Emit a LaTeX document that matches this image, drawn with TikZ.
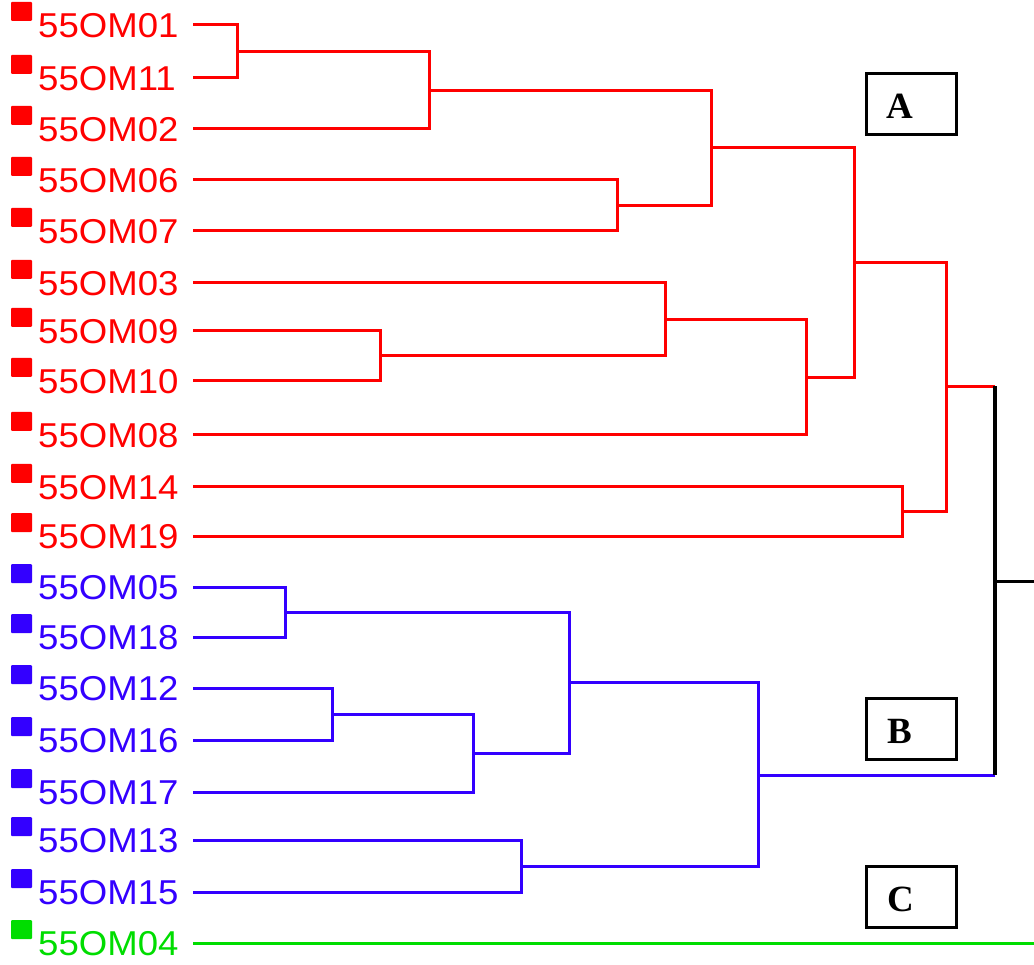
\documentclass[tikz,border=0pt]{standalone}
\usepackage{fontspec}
\setmainfont{Liberation Sans}
\newfontfamily\boxfont{Liberation Serif}
\definecolor{cA}{RGB}{255,0,0}
\definecolor{cB}{RGB}{51,0,255}
\definecolor{cC}{RGB}{0,221,0}
\begin{document}
\begin{tikzpicture}[x=1pt,y=-1pt,
  lab/.style={anchor=base west,inner sep=0pt,font=\fontsize{34.5}{35}\selectfont,xscale=1.06},
  sq/.style={minimum width=21pt,minimum height=19pt,inner sep=0pt,rounded corners=1pt},
  br/.style={line width=3pt},
  clbox/.style={draw=black,line width=2.2pt,minimum width=90pt,minimum height=61pt,inner sep=0pt},
  clletter/.style={font=\boxfont\bfseries\fontsize{37}{37}\selectfont,inner sep=0pt}]
\useasboundingbox (0,0) rectangle (1034,965);
% leaves
\foreach \n/\y/\c in {01/25/cA,11/78/cA,02/129/cA,06/180/cA,07/231/cA,03/283/cA,09/331/cA,10/381/cA,08/435/cA,14/487/cA,19/536/cA,05/587/cB,18/637/cB,12/688/cB,16/740/cB,17/792/cB,13/840/cB,15/892/cB,04/943/cC}{
  \node[sq,fill=\c] (s\n) at (21.5,\y-13.5) {};
  \node[lab,text=\c] (t\n) at (38,\y+12.5) {55OM\n};
  \coordinate (L\n) at (193,\y);
}
% red cluster
\coordinate (m1) at (237,51.5);
\coordinate (m2) at (429,90.25);
\coordinate (m3) at (617,205.5);
\coordinate (m4) at (711,147.9);
\coordinate (m5) at (380,356);
\coordinate (m6) at (665,319.5);
\coordinate (m7) at (806,377.25);
\coordinate (m8) at (854,262.5);
\coordinate (m9) at (902,511.5);
\coordinate (m10) at (946,386.5);
% blue cluster
\coordinate (b1) at (285,612);
\coordinate (b2) at (332,714);
\coordinate (b3) at (473,753);
\coordinate (b4) at (569,682.5);
\coordinate (b5) at (521,866);
\coordinate (b6) at (758,775);
% root
\coordinate (r) at (995,581);
\coordinate (rend) at (1034,581);
\coordinate (gend) at (1034,943);
\begin{scope}[draw=cA]
\draw[br] (L01) -| (m1) |- (L11);
\draw[br] (m1) -| (m2) |- (L02);
\draw[br] (L06) -| (m3) |- (L07);
\draw[br] (m2) -| (m4) |- (m3);
\draw[br] (L09) -| (m5) |- (L10);
\draw[br] (L03) -| (m6) |- (m5);
\draw[br] (m6) -| (m7) |- (L08);
\draw[br] (m4) -| (m8) |- (m7);
\draw[br] (L14) -| (m9) |- (L19);
\draw[br] (m8) -| (m10) |- (m9);
\draw[br] (m10) -- (m10 -| r);
\end{scope}
\begin{scope}[draw=cB]
\draw[br] (L05) -| (b1) |- (L18);
\draw[br] (L12) -| (b2) |- (L16);
\draw[br] (b2) -| (b3) |- (L17);
\draw[br] (b1) -| (b4) |- (b3);
\draw[br] (L13) -| (b5) |- (L15);
\draw[br] (b4) -| (b6) |- (b5);
\draw[br] (b6) -- (b6 -| r);
\end{scope}
\draw[br,line width=3.5pt,black] (m10 -| r) -- (b6 -| r);
\draw[br,black] (r) -- (rend);
\draw[br,cC] (L04) -- (gend);
% cluster boxes
\node[clbox] (boxA) at (911.5,104) {};
\node[clletter] (lA) at (900,106) {A};
\node[clbox] (boxB) at (911.5,729) {};
\node[clletter] (lB) at (900,731) {B};
\node[clbox] (boxC) at (911.5,897) {};
\node[clletter] (lC) at (901,899) {C};
\end{tikzpicture}
\end{document}
